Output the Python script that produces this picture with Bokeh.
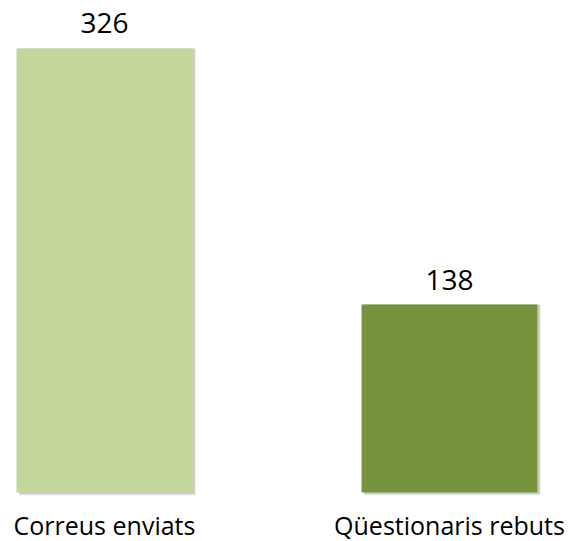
from bokeh.plotting import figure
from bokeh.models import ColumnDataSource, Range1d, LabelSet
from bokeh.core.properties import value
from bokeh.embed import file_html
from bokeh.resources import INLINE

categories = ["Correus enviats", "Qüestionaris rebuts"]
values = [326, 138]
colors = ["#c3d69b", "#77933c"]
positions = [0, 1]

src = ColumnDataSource(dict(
    x=positions,
    top=values,
    color=colors,
    label=[str(v) for v in values],
    cat=categories,
    base=[0 for _ in values],
    sx=[p + 0.008 for p in positions],
))

p = figure(width=569, height=541, output_backend="svg", toolbar_location=None,
           x_range=Range1d(-0.3014, 1.3478), y_range=Range1d(-35.98, 361.2),
           min_border_left=0, min_border_right=0, min_border_top=0,
           min_border_bottom=0, outline_line_color=None, background_fill_color="white")
p.axis.visible = False
p.grid.visible = False

# soft shadow
p.vbar(x="sx", top="top", width=0.51, bottom=-2.0, source=src,
       fill_color="#000000", fill_alpha=0.10, line_color=None)
p.vbar(x="sx", top="top", width=0.51, bottom=-1.2, source=src,
       fill_color="#000000", fill_alpha=0.10, line_color=None)
p.vbar(x="x", top="top", width=0.51, source=src, fill_color="color", line_color=None)

labels = LabelSet(x="x", y="top", text="label", source=src, text_align="center",
                  text_baseline="alphabetic", y_offset=15, text_font_size="28px",
                  text_font=value("Open Sans"), text_color="#000000")
p.add_layout(labels)

cats = LabelSet(x="x", y="base", text="cat", source=src, text_align="center",
                text_baseline="middle", y_offset=-33, text_font_size="25px",
                text_font=value("Open Sans"), text_color="#000000")
p.add_layout(cats)

open("out.html", "w").write(file_html(p, INLINE))
